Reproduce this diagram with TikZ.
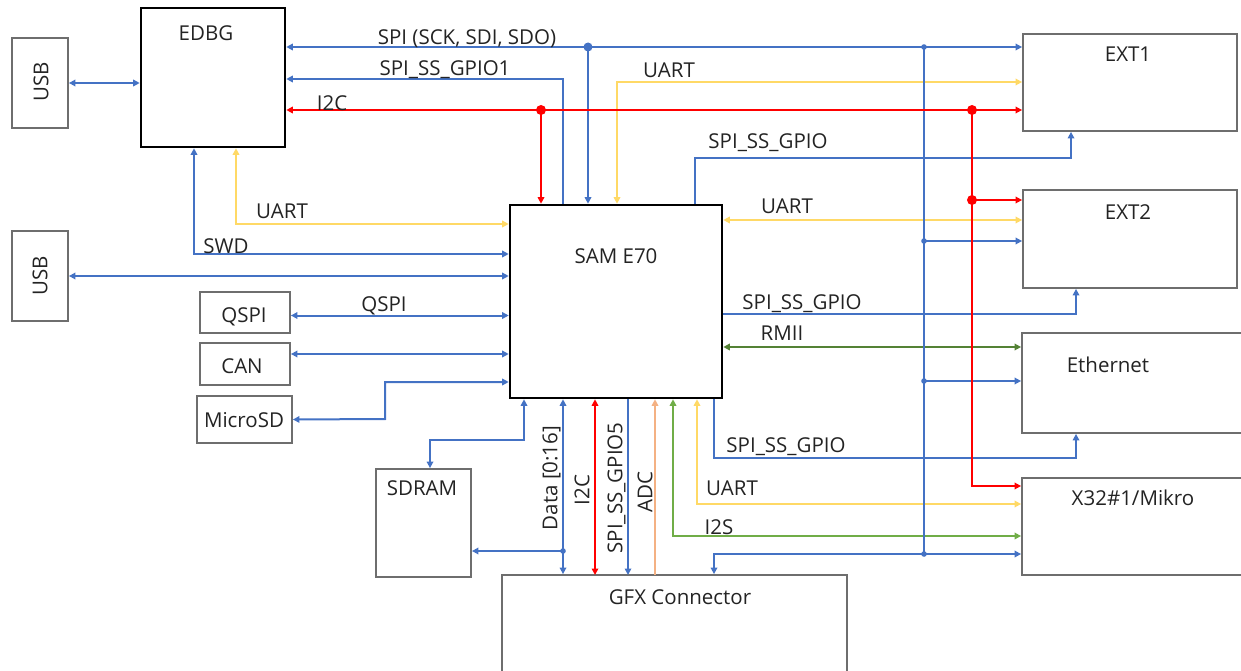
\documentclass[tikz,border=0pt]{standalone}
\usepackage{fontspec}
\setmainfont{Open Sans}
\usetikzlibrary{arrows.meta}
\definecolor{busblue}{RGB}{68,114,196}
\definecolor{busyel}{RGB}{255,217,102}
\definecolor{busred}{RGB}{255,0,0}
\definecolor{busgrn}{RGB}{84,130,53}
\definecolor{busgrn2}{RGB}{112,173,71}
\definecolor{busorg}{RGB}{244,177,131}
\definecolor{boxgray}{RGB}{110,110,110}
\definecolor{txtgray}{RGB}{35,35,35}
\begin{document}
\begin{tikzpicture}[x=1pt,y=-1pt,
  >={Triangle[length=6.5pt,width=6.5pt]},
  font=\fontsize{20.5}{24}\selectfont,
  box/.style={draw=boxgray,line width=1.8pt,inner sep=0pt},
  chip/.style={draw=black,line width=2.6pt,inner sep=0pt},
  sig/.style={text=txtgray,inner sep=0pt,text height=14.6pt,text depth=0pt},
  bl/.style={color=busblue,line width=2pt},
  rd/.style={color=busred,line width=2.4pt},
  yl/.style={color=busyel,line width=2pt},
  gn/.style={color=busgrn,line width=2pt},
  lg/.style={color=busgrn2,line width=2pt},
  og/.style={color=busorg,line width=2pt}]
\useasboundingbox (0,0) rectangle (1241,671);

\node[box,minimum width=56,minimum height=90] (usb1) at (40,83) {};
\node[chip,minimum width=144,minimum height=139] (edbg) at (213,77.5) {};
\node[box,minimum width=56,minimum height=90] (usb2) at (40,276) {};
\node[box,minimum width=90,minimum height=41] (qspi) at (245,312.5) {};
\node[box,minimum width=90,minimum height=42] (can) at (245,364) {};
\node[box,minimum width=95,minimum height=47] (msd) at (244.5,419.5) {};
\node[chip,minimum width=212,minimum height=193] (sam) at (616,301.5) {};
\node[box,minimum width=95,minimum height=108] (sdram) at (423.5,523) {};
\node[box,minimum width=345,minimum height=115] (gfx) at (674.5,632.5) {};
\node[box,minimum width=214,minimum height=97] (ext1) at (1130,82.5) {};
\node[box,minimum width=214,minimum height=98] (ext2) at (1130,239) {};
\node[box,minimum width=238,minimum height=100] (eth) at (1141,383) {};
\node[box,minimum width=238,minimum height=97] (x32) at (1141,526.5) {};

\node[sig,rotate=90] (t-usb1) at (41,82) {USB};
\node[sig,rotate=90] (t-usb2) at (40,276) {USB};
\node[sig] (t-edbg) at (206,33) {EDBG};
\node[sig] (t-sam) at (616,256) {SAM E70};
\node[sig] (t-qspi) at (244,315) {QSPI};
\node[sig] (t-can) at (242,366) {CAN};
\node[sig] (t-msd) at (244,420) {MicroSD};
\node[sig] (t-sdram) at (422,488) {SDRAM};
\node[sig] (t-gfx) at (680,597) {GFX Connector};
\node[sig] (t-ext1) at (1128,54) {EXT1};
\node[sig] (t-ext2) at (1128,212) {EXT2};
\node[sig] (t-eth) at (1108,365) {Ethernet};
\node[sig] (t-x32) at (1133,498) {X32\#1/Mikro};

\coordinate (jspi) at (588,47);
\coordinate (jbus) at (924,47);
\coordinate (ss1) at (563,79);
\coordinate (jsda) at (541,110);
\coordinate (jsdb) at (972,110);
\coordinate (jsdc) at (972,200);
\coordinate (sdx) at (972,486);
\coordinate (ua1) at (617,82);
\coordinate (ss2) at (695,158);
\coordinate (ss2b) at (1071,158);
\coordinate (ua0) at (236,224);
\coordinate (swd) at (194,254);
\coordinate (qsl) at ([yshift=-3pt]qspi.east);
\coordinate (canl) at ([yshift=10pt]can.east);
\coordinate (ua2) at (722,220);
\coordinate (ss4) at (1076,314);
\coordinate (rmii) at (722,347);
\coordinate (sdm) at (385,419);
\coordinate (sdn) at (385,382);
\coordinate (ram) at (524,440);
\coordinate (ramb) at (430,440);
\coordinate (dat) at (563,551);
\coordinate (pi2c) at (595,575);
\coordinate (pss5) at (628,575);
\coordinate (padc) at (655,575);
\coordinate (i2s) at (673,536);
\coordinate (ua3) at (697,504);
\coordinate (ss3) at (714,458);
\coordinate (ss3b) at (1076,458);
\coordinate (jext2) at (924,241);
\coordinate (jeth) at (924,381);
\coordinate (jx32) at (924,554);
\coordinate (gfxb) at (714,554);

\draw[bl,<->] (usb1.east) -- (edbg.west |- usb1.east);
\draw[bl,<->] (edbg.east |- jspi) -- (ext1.west |- jspi);
\draw[bl,->] (jspi) -- (sam.north -| jspi);
\draw[bl,<-] (edbg.east |- ss1) -- (ss1) -- (sam.north -| ss1);
\draw[yl,<->] (sam.north -| ua1) -- (ua1) -- (ext1.west |- ua1);
\draw[bl,->] (sam.north -| ss2) -- (ss2) -- (ss2b) -- (ext1.south -| ss2b);
\draw[yl,<->] (edbg.south -| ua0) -- (ua0) -- (sam.west |- ua0);
\draw[bl,<->] (edbg.south -| swd) -- (swd) -- (sam.west |- swd);
\draw[bl,<->] (usb2.east) -- (sam.west |- usb2.east);
\draw[bl,<->] (qsl) -- (sam.west |- qsl);
\draw[bl,<->] (canl) -- (sam.west |- canl);
\draw[bl,<->] (msd.east) -- (sdm) -- (sdn) -- (sam.west |- sdn);
\draw[bl,<->] (sam.south -| ram) -- (ram) -- (ramb) -- (sdram.north -| ramb);
\draw[bl,<->] (sam.south -| dat) -- (gfx.north -| dat);
\draw[bl,->] (dat) -- (sdram.east |- dat);
\draw[rd,<->] (sam.south -| pi2c) -- (pi2c);
\draw[bl,->] (sam.south -| pss5) -- (pss5);
\draw[og,->] (padc) -- (sam.south -| padc);
\draw[lg,<->] (sam.south -| i2s) -- (i2s) -- (x32.west |- i2s);
\draw[yl,<->] (sam.south -| ua3) -- (ua3) -- (x32.west |- ua3);
\draw[bl,->] (sam.south -| ss3) -- (ss3) -- (ss3b) -- (eth.south -| ss3b);
\draw[yl,<->] (sam.east |- ua2) -- (ext2.west |- ua2);
\draw[bl,->] (sam.east |- ss4) -- (ss4) -- (ext2.south -| ss4);
\draw[gn,<->] (sam.east |- rmii) -- (eth.west |- rmii);
\draw[bl] (jbus) -- (jx32);
\draw[bl,->] (jext2) -- (ext2.west |- jext2);
\draw[bl,->] (jeth) -- (eth.west |- jeth);
\draw[bl,<->] (gfx.north -| gfxb) -- (gfxb) -- (x32.west |- gfxb);
\draw[rd,<->] (edbg.east |- jsda) -- (ext1.west |- jsda);
\draw[rd,->] (jsda) -- (sam.north -| jsda);
\draw[rd,->] (jsdb) -- (sdx) -- (x32.west |- sdx);
\draw[rd,->] (jsdc) -- (ext2.west |- jsdc);

\fill[busblue] (jspi) circle[radius=4.5pt];
\foreach \p in {jbus,jext2,jeth,jx32,dat} \fill[busblue] (\p) circle[radius=2.8pt];
\foreach \p in {jsda,jsdb,jsdc} \fill[busred] (\p) circle[radius=5pt];

\node[sig] (l-spi) at (467,37) {SPI (SCK, SDI, SDO)};
\node[sig] (l-ss1) at (445,68) {SPI\_SS\_GPIO1};
\node[sig] (l-i2c) at (332,103) {I2C};
\node[sig] (l-ua1) at (669,70) {UART};
\node[sig] (l-ss2) at (768,141) {SPI\_SS\_GPIO};
\node[sig] (l-ua0) at (282,211) {UART};
\node[sig] (l-swd) at (226,246) {SWD};
\node[sig] (l-qspi) at (384,304) {QSPI};
\node[sig] (l-ua2) at (787,206) {UART};
\node[sig] (l-ss4) at (802,302) {SPI\_SS\_GPIO};
\node[sig] (l-rmii) at (782,333) {RMII};
\node[sig] (l-ss3) at (786,445) {SPI\_SS\_GPIO};
\node[sig] (l-ua3) at (732,488) {UART};
\node[sig] (l-i2s) at (719,527) {I2S};
\node[sig,rotate=90] (l-dat) at (550,478) {Data [0:16]};
\node[sig,rotate=90] (l-i2cb) at (582,490) {I2C};
\node[sig,rotate=90] (l-ss5) at (615,488) {SPI\_SS\_GPIO5};
\node[sig,rotate=90] (l-adc) at (645,492) {ADC};
\end{tikzpicture}
\end{document}
